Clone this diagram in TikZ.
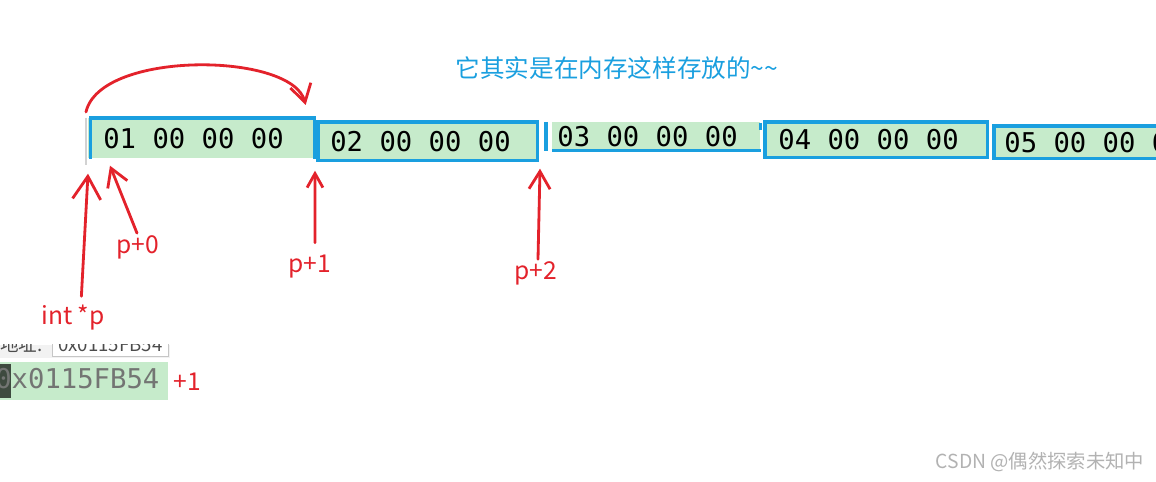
\documentclass[tikz,border=0pt]{standalone}
\usepackage{fontspec}
\usetikzlibrary{arrows.meta,positioning,calc}
\newfontfamily\hansfont{Noto Sans CJK SC}
\newfontfamily\hexfont{DejaVu Sans Mono}
\newcommand\membytes[4]{#1\hspace{0.602em}#2\hspace{0.602em}#3\hspace{0.602em}#4}
\definecolor{memgreen}{HTML}{C6EBCB}
\definecolor{hiblue}{HTML}{1A9FDF}
\definecolor{penred}{HTML}{E3222B}
\definecolor{curdark}{HTML}{3E4A3F}
\definecolor{addrgray}{HTML}{737573}

\tikzset{
  cell/.style={fill=memgreen, font=\hexfont\fontsize{15.5}{18}\selectfont,
    align=left, inner ysep=0pt, anchor=north west},
  hl/.style={draw=hiblue, line width=2pt},
  pen/.style={draw=penred, line width=1.6pt, line cap=round,
    -{Straight Barb[length=10pt,width=12pt]}},
  redtext/.style={text=penred, font=\hansfont\fontsize{14}{16}\selectfont, inner sep=1pt},
}

\begin{document}
\begin{tikzpicture}[x=0.02cm,y=-0.02cm]
	\useasboundingbox (0,0) rectangle (1156,482);
	\clip (0,0) rectangle (1156,482);

	% Title
	\node[text=hiblue, font=\hansfont\fontsize{14}{16}\selectfont] (title) at (617,68)
		{它其实是在内存这样存放的\textasciitilde\textasciitilde};

	% Memory cells
	\node[cell, minimum height=0.80cm, text width=3.92cm, inner xsep=0.30cm] (c1) at (88,118) {\membytes{01}{00}{00}{00}};
	\node[cell, minimum height=0.76cm, text width=3.90cm, inner xsep=0.24cm] (c2) at (318,122) {\membytes{02}{00}{00}{00}};
	\node[cell, minimum height=0.56cm, text width=3.96cm, inner xsep=0.10cm] (c3) at (552,122) {\membytes{03}{00}{00}{00}};
	\node[cell, minimum height=0.70cm, text width=3.92cm, inner xsep=0.26cm] (c4) at (765,122) {\membytes{04}{00}{00}{00}};
	\node[cell, minimum height=0.64cm, text width=3.70cm, inner xsep=0.20cm] (c5) at (994,126) {\membytes{05}{00}{00}{00}};

	% Blue highlight borders
	\draw[gray!35, line width=0.6pt] ([xshift=-0.04cm]c1.north west) -- ([shift={(-0.04cm,-0.12cm)}]c1.south west);
	\draw[hl] ([xshift=0.05cm]c1.south west) -- ([xshift=0.05cm]c1.north west) -- (c1.north east) -- (c1.south east);
	\draw[hl] (c2.north west) rectangle (c2.south east);
	\draw[hl] ([xshift=-0.12cm]c3.north west) -- ([xshift=-0.12cm]c3.south west);
	\draw[hl] (c3.south west) -- (c3.south east);
	\draw[hl] ([yshift=-0.02cm]c3.north east) -- ([yshift=-0.16cm]c3.north east);
	\draw[hl] (c4.north west) rectangle (c4.south east);
	\draw[hl] (c5.north east) -- (c5.north west) -- (c5.south west) -- (c5.south east);

	% Pointer step arrow
	\coordinate (jumpfrom) at ([shift={(-0.04cm,0.12cm)}]c1.north west);
	\coordinate (jumpto) at ([shift={(-0.18cm,0.26cm)}]c1.north east);
	\draw[pen] (jumpfrom) .. controls (100,50) and (292,52) .. (jumpto);

	% Pointer labels
	\coordinate (tipp) at ([yshift=-0.30cm]c1.south west);
	\coordinate (tip0) at ([shift={(0.44cm,-0.14cm)}]c1.south west);
	\coordinate (tip1) at ([shift={(-0.06cm,-0.20cm)}]c2.south west);
	\coordinate (tip2) at ([shift={(-0.24cm,-0.36cm)}]c3.south west);
	\node[redtext] (lbp) at (73,318) {int *p};
	\node[redtext] (lb0) at (138,247) {p+0};
	\node[redtext] (lb1) at (310,267) {p+1};
	\node[redtext] (lb2) at (536,273) {p+2};
	\draw[pen, -{Straight Barb[length=13pt,width=16pt]}, shorten <=4pt] ([xshift=0.16cm]lbp.north) -- (tipp);
	\draw[pen] ([xshift=-0.02cm]lb0.north) -- (tip0);
	\draw[pen, -{Straight Barb[length=8pt,width=9pt]}, shorten <=6pt] ([xshift=0.10cm]lb1.north) -- (tip1);
	\draw[pen] ([xshift=0.04cm]lb2.north) -- (tip2);

	% Address window fragment
	\begin{scope}
		\clip (0,345) rectangle (170,358);
		\fill[gray!10] (0,345) rectangle (170,358);
		\node[font=\hansfont\fontsize{10.6}{12}\selectfont, text=black!70, anchor=base west, inner sep=0pt] (addrkey) at (0,352) {地址:};
		\node[draw=gray!45, fill=white, font=\hansfont\fontsize{10.6}{12}\selectfont, text=black!70,
			inner sep=0.08cm, minimum width=2.32cm, text depth=0pt, anchor=base west] (addrold) at (52,352) {0x0115FB54};
	\end{scope}
	\node[fill=memgreen, minimum width=3.36cm, minimum height=0.76cm, inner sep=0pt, anchor=north west] (addr) at (0,362) {};
	\fill[curdark] (0,364) rectangle (11,398);
	\node[font=\hexfont\fontsize{15.5}{18}\selectfont, text=addrgray, anchor=west, inner sep=0pt] (addrtxt) at (-5,379) {0x0115FB54};
	\node[redtext, right=0.06cm of addr] (plusone) {+1};

	% Watermark
	\node[font=\hansfont\fontsize{11}{13}\selectfont, text=gray!60] (mark) at (1040,462) {CSDN @偶然探索未知中};
\end{tikzpicture}
\end{document}
